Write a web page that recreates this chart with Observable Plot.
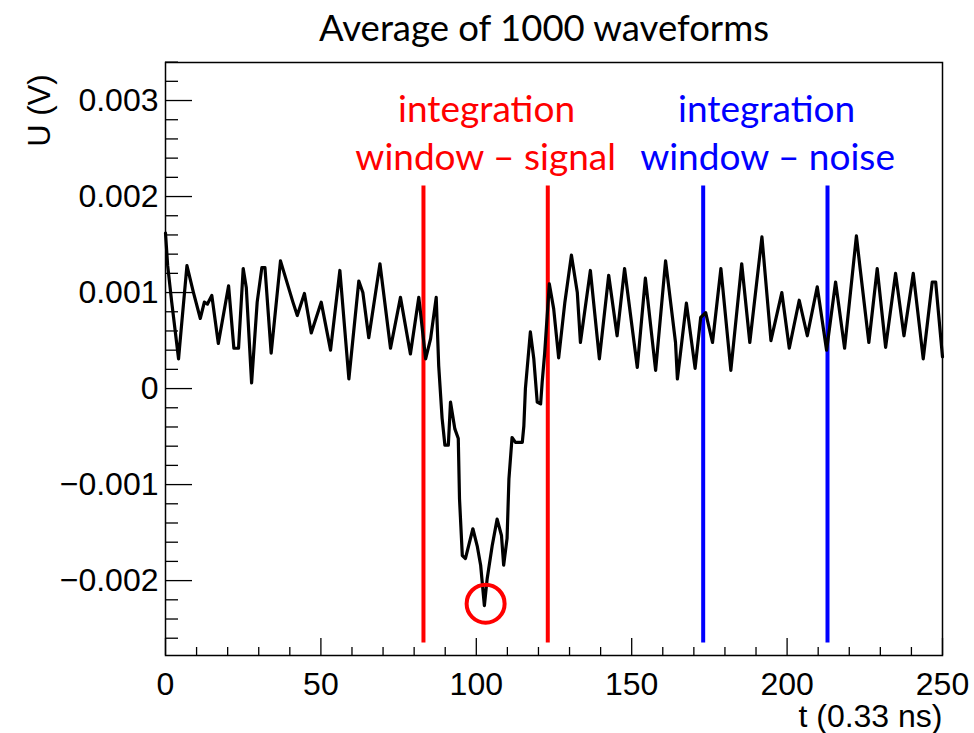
<!DOCTYPE html>
<html><head><meta charset="utf-8">
<script src="https://cdn.jsdelivr.net/npm/d3@7"></script>
<script src="https://cdn.jsdelivr.net/npm/@observablehq/plot@0.6"></script>
<style>body{margin:0;background:#fff}</style>
</head><body><div id="chart"></div>
<script>
const title = "Average of 1000 waveforms";
const xLabel = "t (0.33 ns)";
const yLabel = "U (V)";

// waveform key points: time bin and voltage (mV)
const tPoints = [0,0.7,2,4.2,5,6.9,9,11.2,12.5,13.5,
  14.9,17,20.3,22,23.5,25,26,27.7,29.5,31,
  32,34,37,41,42.4,44.7,46.9,50.1,53.1,56.1,
  59,62.2,63.5,65.4,69,72.4,75.6,78.8,81.5,83.7,
  85.3,87.1,87.9,89,89.9,91,91.7,93.1,94.2,94.6,
  95.5,96.5,98.9,100.3,101.4,102.6,103.5,105.1,106.7,108.1,
  108.8,109.9,110.5,111.5,112.6,114.8,115.3,115.8,117.4,118.5,
  119.6,120.7,121.2,122,123.5,124.9,126.5,128.5,130.6,132.5,
  133.5,136.7,139.6,142.6,145.3,147.7,151.8,154.4,157.7,160.9,
  164.1,164.7,167.6,170.4,172.2,173.8,176,178.7,181.9,185.4,
  188,191.9,194.8,198.3,200.7,203.9,206.5,209.7,212.7,215.6,
  218.5,222.3,223.5,226.3,229,231.7,234.9,237.6,240.6,243.8,
  246.7,247.8,250];
const uMilliVolt = [1.62,1.28,0.9,0.31,0.6,1.28,1.0,0.73,0.9,0.88,
  0.97,0.47,1.07,0.42,0.42,1.25,1.05,0.06,0.9,1.26,
  1.26,0.37,1.33,0.9,0.76,0.99,0.58,0.9,0.40,1.23,
  0.10,1.12,1.0,0.53,1.30,0.42,0.95,0.36,0.95,0.31,
  0.52,0.95,0.24,-0.31,-0.59,-0.59,-0.14,-0.42,-0.52,-1.15,
  -1.74,-1.77,-1.46,-1.64,-1.84,-2.26,-1.98,-1.64,-1.36,-1.53,
  -1.84,-1.56,-0.94,-0.51,-0.56,-0.56,-0.39,0.0,0.59,0.31,
  -0.14,-0.16,0.07,0.37,1.09,0.83,0.32,0.9,1.39,1.0,
  0.48,1.23,0.31,1.18,0.55,1.25,0.22,1.15,0.19,1.33,
  0.48,0.10,0.89,0.21,0.74,0.79,0.48,1.25,0.19,1.30,
  0.48,1.58,0.50,1.0,0.42,0.92,0.55,1.06,0.40,1.11,
  0.42,1.59,1.25,0.48,1.25,0.43,1.2,0.55,1.2,0.31,
  1.11,1.11,0.33];

const signalWindow = [83, 123];
const noiseWindow = [173, 213];
const windowLineSpan = [0.00211, -0.00265];
const peakMarker = [{t: 103, u: -0.00224}];

const xMajorTicks = [0, 50, 100, 150, 200, 250];
const xMinorTicks = [10,20,30,40,60,70,80,90,110,120,130,140,160,170,180,190,210,220,230,240];
const yMajorTicks = [-0.002, -0.001, 0, 0.001, 0.002, 0.003];
const yTickLabels = ["\u22120.002", "\u22120.001", "0", "0.001", "0.002", "0.003"];
const yMinorTicks = [-0.0026,-0.0024,-0.0022,-0.0018,-0.0016,-0.0014,-0.0012,-0.0008,-0.0006,-0.0004,-0.0002,
  0.0002,0.0004,0.0006,0.0008,0.0012,0.0014,0.0016,0.0018,0.0022,0.0024,0.0026,0.0028,0.0032,0.0034];

const wave = tPoints.map((t, i) => ({t, u: uMilliVolt[i] / 1000}));
const labelFont = "Liberation Sans, Arial, sans-serif";
const noteFont = "Lato, 'Open Sans', sans-serif";

const chart = Plot.plot({
  width: 974,
  height: 733,
  marginLeft: 165,
  marginRight: 32,
  marginTop: 62,
  marginBottom: 78,
  style: {fontFamily: labelFont, background: "white"},
  x: {domain: [0, 250]},
  y: {domain: [-0.00278, 0.003396]},
  marks: [
    Plot.ruleX(signalWindow, {x: d => d, y1: windowLineSpan[0], y2: windowLineSpan[1], stroke: "#ff0000", strokeWidth: 4}),
    Plot.ruleX(noiseWindow, {x: d => d, y1: windowLineSpan[0], y2: windowLineSpan[1], stroke: "#0000ff", strokeWidth: 4}),
    Plot.line(wave, {x: "t", y: "u", stroke: "black", strokeWidth: 3.2, strokeLinejoin: "round"}),
    Plot.dot(peakMarker, {x: "t", y: "u", r: 19, stroke: "#ff0000", strokeWidth: 4, fill: "none"}),
    Plot.frame({stroke: "black", strokeWidth: 1.5}),
    // inward ticks
    Plot.axisY({ticks: yMajorTicks, tickSize: 27, dx: 27, tickFormat: () => "", label: null, strokeWidth: 1.3}),
    Plot.axisY({ticks: yMinorTicks, tickSize: 13, dx: 13, tickFormat: () => "", label: null, strokeWidth: 1.3}),
    Plot.axisX({ticks: xMajorTicks, tickSize: 17, dy: -17, tickFormat: () => "", label: null, strokeWidth: 1.3}),
    Plot.axisX({ticks: xMinorTicks, tickSize: 8, dy: -8, tickFormat: () => "", label: null, strokeWidth: 1.3}),
    // tick labels
    Plot.axisY({ticks: yMajorTicks, tickSize: 0, tickPadding: 7, tickFormat: d => yTickLabels[yMajorTicks.indexOf(d)], label: null, fontSize: 32, fill: "black"}),
    Plot.axisX({ticks: xMajorTicks, tickSize: 0, tickPadding: 17, tickFormat: d => String(d), label: null, fontSize: 32, fill: "black"}),
    // axis titles
    Plot.text([xLabel], {text: d => d, frameAnchor: "bottom-right", textAnchor: "end", lineAnchor: "middle", dy: 61, fontSize: 32, fill: "black"}),
    Plot.text([yLabel], {text: d => d, frameAnchor: "top-left", textAnchor: "end", lineAnchor: "middle", rotate: -90, dx: -125, dy: 12, fontSize: 31, fill: "black"}),
    // title
    Plot.text([title], {text: d => d, frameAnchor: "top", lineAnchor: "middle", dx: -10, dy: -33, fontSize: 36.5, fontFamily: noteFont, fill: "black"}),
    // annotations
    Plot.text(["integration"], {text: d => d, x: 103.3, y: 0.0029, lineAnchor: "middle", fontSize: 37, fontFamily: noteFont, fill: "#ff0000"}),
    Plot.text(["window \u2013 signal"], {text: d => d, x: 103, y: 0.0024, lineAnchor: "middle", fontSize: 37, fontFamily: noteFont, fill: "#ff0000"}),
    Plot.text(["integration"], {text: d => d, x: 193.4, y: 0.0029, lineAnchor: "middle", fontSize: 37, fontFamily: noteFont, fill: "#0000ff"}),
    Plot.text(["window \u2013 noise"], {text: d => d, x: 193.7, y: 0.0024, lineAnchor: "middle", fontSize: 37, fontFamily: noteFont, fill: "#0000ff"})
  ]
});
document.getElementById("chart").appendChild(chart);
</script>
</body></html>
